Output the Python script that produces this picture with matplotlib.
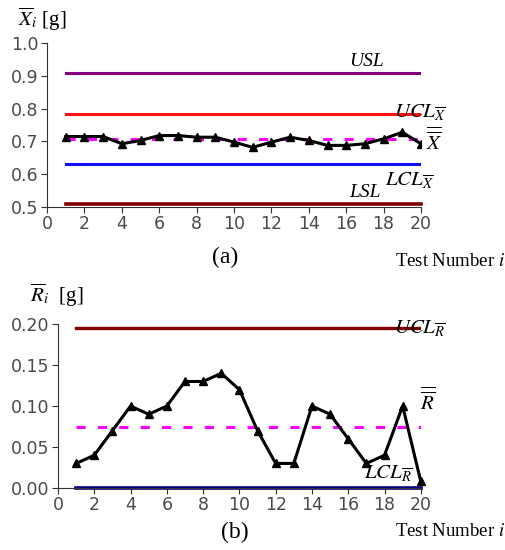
import matplotlib.pyplot as plt
import numpy as np

# dati
test_num = np.arange(1, 21)
x_bar = [0.715, 0.715, 0.715, 0.693, 0.703, 0.718, 0.718, 0.713, 0.713, 0.698,
         0.682, 0.698, 0.713, 0.703, 0.688, 0.688, 0.693, 0.708, 0.728, 0.693]
r_bar = [0.030, 0.040, 0.070, 0.100, 0.090, 0.100, 0.130, 0.130, 0.140, 0.120,
         0.070, 0.030, 0.030, 0.100, 0.090, 0.060, 0.030, 0.040, 0.100, 0.008]

usl, ucl_x, x_dbar, lcl_x, lsl = 0.91, 0.785, 0.708, 0.632, 0.510
ucl_r, r_dbar, lcl_r = 0.195, 0.075, 0.0

x_ticks = np.arange(0, 21, 2)
y_ticks_a = [0.5, 0.6, 0.7, 0.8, 0.9, 1.0]
y_ticks_b = [0.00, 0.05, 0.10, 0.15, 0.20]

plt.rcParams['mathtext.fontset'] = 'stix'
serif = 'Liberation Serif'

fig = plt.figure(figsize=(5.06, 5.5), dpi=100)
ax1 = fig.add_axes([0.093, 0.6236, 0.739, 0.298])
ax2 = fig.add_axes([0.1146, 0.1127, 0.717, 0.298])


def stile_assi(ax, yticks, fmt):
    for s in ['top', 'right']:
        ax.spines[s].set_visible(False)
    for s in ['left', 'bottom']:
        ax.spines[s].set_color('#333333')
    ax.set_xlim(0, 20)
    ax.set_xticks(x_ticks)
    ax.set_yticks(yticks)
    ax.set_yticklabels([fmt % v for v in yticks])
    ax.tick_params(direction='out', length=4, color='#333333', pad=2,
                   labelsize=12.5, labelcolor='#4a4a4a')
    for lab in ax.get_xticklabels() + ax.get_yticklabels():
        lab.set_fontfamily('DejaVu Sans')


# (a) carta X
xs = [test_num[0], test_num[-1]]
ax1.plot(xs, [usl] * 2, color='#800080', lw=2.2)
ax1.plot(xs, [ucl_x] * 2, color='#ff1010', lw=2.2)
ax1.plot(xs, [lcl_x] * 2, color='#1010ff', lw=2.2)
ax1.plot(xs, [lsl] * 2, color='#800000', lw=2.6, clip_on=False)
ax1.plot(xs, [x_dbar] * 2, color='#ff00ff', lw=2.2, ls=(0, (3, 4)))
ax1.plot(test_num, x_bar, color='black', lw=2.2, marker='^', ms=6)
ax1.set_ylim(0.5, 1.0)
stile_assi(ax1, y_ticks_a, '%.1f')

ax1.text(17.1, usl + 0.007, 'USL', fontsize=14, fontfamily=serif, style='italic', ha='center', va='bottom')
ax1.text(19.95, ucl_x + 0.002, r'$UCL_{\overline{X}}$', fontsize=15, ha='center', va='center')
ax1.text(20.7, 0.704, r'$\overline{\overline{X}}$', fontsize=15, ha='center', va='center')
ax1.text(19.4, 0.581, r'$LCL_{\overline{X}}$', fontsize=15, ha='center', va='center')
ax1.text(17.0, lsl + 0.008, 'LSL', fontsize=14, fontfamily=serif, style='italic', ha='center', va='bottom')
fig.text(0.035, 0.965, r'$\overline{X}_i$ [g]', fontsize=15, fontfamily=serif, va='center')
fig.text(0.445, 0.531, '(a)', fontsize=17, fontfamily=serif, ha='center', va='center')
fig.text(0.78, 0.524, r'Test Number $i$', fontsize=13.5, fontfamily=serif, va='center')

# (b) carta R
ax2.plot(xs, [ucl_r] * 2, color='#800000', lw=2.4)
ax2.plot(xs, [lcl_r] * 2, color='#000080', lw=2.6, clip_on=False)
ax2.plot(xs, [r_dbar] * 2, color='#ff00ff', lw=2.2, ls=(0, (3, 4)))
ax2.plot(test_num, r_bar, color='black', lw=2.2, marker='^', ms=6, clip_on=False)
ax2.set_ylim(0.0, 0.20)
stile_assi(ax2, y_ticks_b, '%.2f')

ax2.text(19.95, ucl_r - 0.001, r'$UCL_{\overline{R}}$', fontsize=15, ha='center', va='center')
ax2.text(20.35, 0.108, r'$\overline{\overline{R}}$', fontsize=15, ha='center', va='center')
ax2.text(18.2, 0.017, r'$LCL_{\overline{R}}$', fontsize=15, ha='center', va='center')
fig.text(0.06, 0.462, r'$\overline{R}_i$  [g]', fontsize=15, fontfamily=serif, va='center')
fig.text(0.465, 0.031, '(b)', fontsize=17, fontfamily=serif, ha='center', va='center')
fig.text(0.78, 0.033, r'Test Number $i$', fontsize=13.5, fontfamily=serif, va='center')

fig.savefig('out.png', dpi=100)
